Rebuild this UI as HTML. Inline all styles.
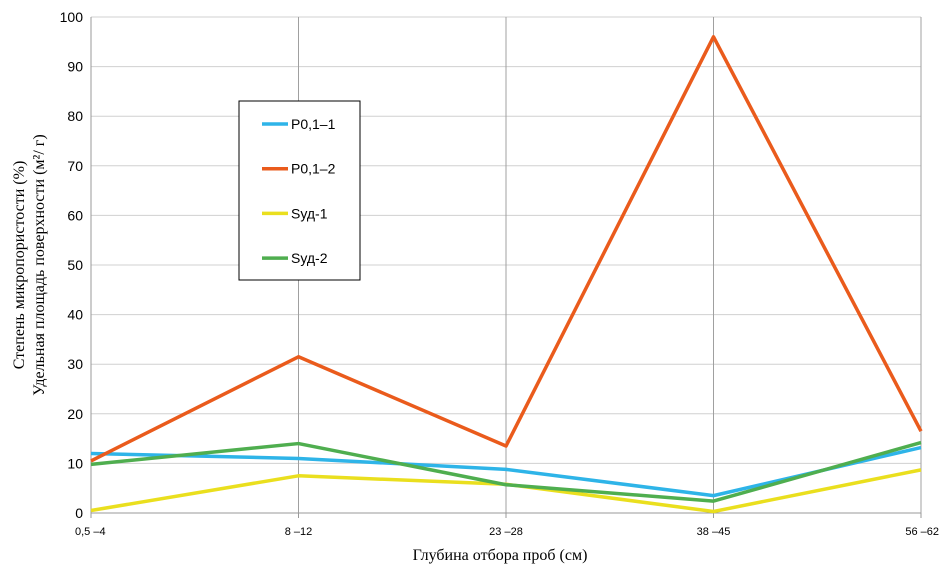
<!DOCTYPE html>
<html><head><meta charset="utf-8"><style>
body{margin:0;background:#fff;}
svg{display:block;font-family:"Liberation Sans",sans-serif;}
</style></head><body>
<svg id="chart" width="949" height="569" xmlns="http://www.w3.org/2000/svg">
<g id="grid"></g>
<g id="axes"></g>
<g id="series"></g>
<text x="500" y="560" text-anchor="middle" font-family="Liberation Serif,serif" font-size="16" fill="#000">Глубина отбора проб (см)</text>
<text transform="translate(24,265) rotate(-90)" text-anchor="middle" font-family="Liberation Serif,serif" font-size="16" fill="#000">Степень микропористости (%)</text>
<text transform="translate(44,265) rotate(-90)" text-anchor="middle" font-family="Liberation Serif,serif" font-size="16" fill="#000">Удельная площадь поверхности (м²/ г)</text>
<g>
<rect x="239" y="101" width="121" height="179" fill="#fff" stroke="#000" stroke-width="1"/>
<g id="legend"></g>
</g>
</svg>
<script>
const categories=["0,5 –4","8 –12","23 –28","38 –45","56 –62"];
const yTicks=[0,10,20,30,40,50,60,70,80,90,100];
const seriesNames=["P0,1–1","P0,1–2","Sуд-1","Sуд-2"];
const p011=[12,11,8.8,3.5,13.2];
const p012=[10.5,31.5,13.5,96,16.5];
const sud1=[0.5,7.5,5.8,0.3,8.7];
const sud2=[9.8,14,5.7,2.4,14.2];
const colors=["#2eb4e8","#ea5b1c","#eadf1e","#4fae4f"];
const NS="http://www.w3.org/2000/svg";
const X0=91,X1=921,Y0=513,Y1=17;
const xs=i=>X0+i*(X1-X0)/(categories.length-1);
const ys=v=>Y0-(v/100)*(Y0-Y1);
function mk(tag,attrs,parent){const e=document.createElementNS(NS,tag);for(const k in attrs)e.setAttribute(k,attrs[k]);parent.appendChild(e);return e;}
const grid=document.getElementById('grid'),axes=document.getElementById('axes'),ser=document.getElementById('series'),leg=document.getElementById('legend');
yTicks.forEach(t=>{
 if(t>0){const l=mk('line',{x1:X0,x2:X1,y1:ys(t),y2:ys(t),stroke:'#d0d0d0','stroke-width':1},grid);
 
 }
 const tx=mk('text',{x:X0-8,y:ys(t)+5,'text-anchor':'end','font-size':14,fill:'#000'},axes);tx.textContent=t;
 
 
});
categories.forEach((c,i)=>{
 if(i>0){const l=mk('line',{x1:xs(i),x2:xs(i),y1:Y1,y2:Y0,stroke:'#a0a0a0','stroke-width':1},grid);
 
 }
 const tk=mk('line',{x1:xs(i),x2:xs(i),y1:Y0,y2:Y0+5,stroke:'#999'},axes);
 
 
 const tx=mk('text',{x:xs(i),y:Y0+22,'text-anchor':i==4?'end':(i==0?'start':'middle'),'font-size':11,fill:'#000'},axes);tx.textContent=c;
 if(i==4)tx.setAttribute('x',xs(i)+18);
 if(i==0)tx.setAttribute('x',xs(i)-16);
 
 
});
const ya=mk('line',{x1:X0,x2:X0,y1:Y1,y2:Y0,stroke:'#999'},axes);


const xa=mk('line',{x1:X0,x2:X1,y1:Y0,y2:Y0,stroke:'#999'},axes);


const data=[p011,p012,sud1,sud2];
const names=['line-p01-1','line-p01-2','line-sud-1','line-sud-2'];
data.forEach((d,s)=>{
 const pts=d.map((v,i)=>xs(i)+','+ys(v)).join(' ');
 const pl=mk('polyline',{points:pts,fill:'none',stroke:colors[s],'stroke-width':3.5,'stroke-linejoin':'round'},ser);
 
 
 const ly=124+s*44.7;
 const ll=mk('line',{x1:262,x2:288,y1:ly,y2:ly,stroke:colors[s],'stroke-width':3.5},leg);
 
 
 const lt=mk('text',{x:291,y:ly+5,'font-size':14,fill:'#000'},leg);lt.textContent=seriesNames[s];
 
 
});
</script>
</body></html>
